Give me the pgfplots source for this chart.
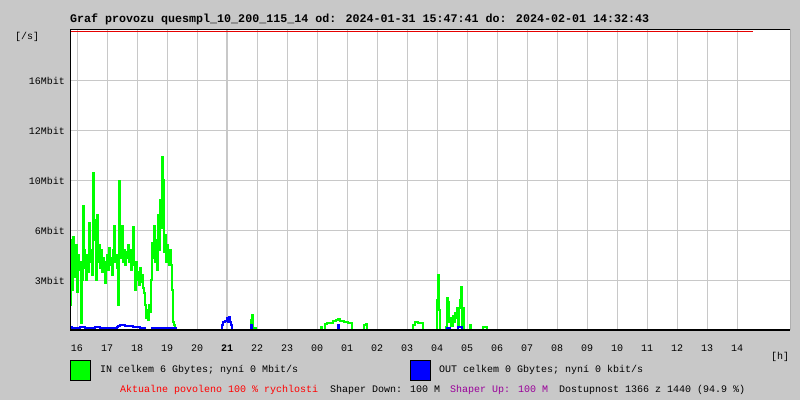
\documentclass[border=0pt]{standalone}
\usepackage{pgfplots}
\pgfplotsset{compat=1.18}
\usepackage{fontspec}
\setmainfont{Liberation Mono}
\definecolor{bg}{RGB}{200,200,200}
\definecolor{gridgray}{RGB}{200,200,200}
\definecolor{ingreen}{RGB}{0,255,0}
\definecolor{outblue}{RGB}{0,0,255}
\definecolor{txtred}{RGB}{255,0,0}
\definecolor{txtpurple}{RGB}{153,0,153}
\definecolor{limred}{RGB}{230,0,0}
\begin{document}
\begin{tikzpicture}[x=1bp,y=1bp]
\fill[bg] (0,0) rectangle (800,400);
\useasboundingbox (0,0) rectangle (800,400);
\begin{axis}[
  at={(70bp,70bp)}, anchor=south west,
  scale only axis, width=720bp, height=300bp,
  xmin=-14, xmax=1426, ymin=0, ymax=300,
  axis line style={draw=none},
  tick style={draw=none},
  xtick={0,60,...,1320},
  xticklabels={16,17,18,19,20,\textbf{21},22,23,00,01,02,03,04,05,06,07,08,09,10,11,12,13,14},
  ytick={50,100,150,200,250},
  yticklabels={3Mbit,6Mbit,10Mbit,12Mbit,16Mbit},
  grid=major,
  major grid style={draw=gridgray, line width=1bp},
  xticklabel style={font=\fontsize{10bp}{12bp}\selectfont, anchor=base, inner sep=0pt, yshift=-21bp},
  yticklabel style={font=\fontsize{10bp}{12bp}\selectfont, anchor=east, inner sep=0pt, xshift=-5bp, yshift=-1bp},
  axis background/.style={fill=white},
  clip=true,
]
\draw[gridgray, line width=2bp] (axis cs:300,0) -- (axis cs:300,300);
% IN (green)
\addplot[ingreen, line width=1.25bp, const plot] coordinates {
(-14,25) (-12,90) (-10,40) (-8,93) (-6,65) (-4,53) (-2,85) (0,38) (2,75) (4,60)
(6,68) (8,7) (10,50) (12,124) (14,80) (16,62) (18,50) (20,75) (22,58) (24,107)
(26,68) (28,80) (30,55) (32,157) (34,90) (36,110) (38,50) (40,115) (42,68) (44,85)
(46,62) (48,80) (50,58) (52,72) (54,64) (56,47) (58,68) (60,75) (62,60) (64,82)
(66,65) (68,72) (70,55) (72,80) (74,104) (76,68) (78,75) (80,62) (82,25) (84,149)
(86,72) (88,85) (90,104) (92,68) (94,80) (96,65) (98,78) (100,72) (102,85) (104,68)
(106,80) (108,60) (110,72) (112,103) (114,65) (116,40) (118,68) (120,50) (122,58) (124,45)
(126,62) (128,48) (130,55) (132,42) (134,37) (136,25) (138,12) (140,20) (142,10) (144,25)
(146,18) (148,50) (150,87) (152,72) (154,104) (156,68) (158,90) (160,60) (162,115) (164,80)
(166,130) (168,102) (170,173) (172,150) (174,78) (176,95) (178,68) (180,85) (182,72) (184,65)
(186,80) (188,65) (190,40) (192,8) (194,5) (196,2) (198,0)
(346,0) (348,10) (350,15) (352,0) (356,2) (358,0)
(488,3) (490,0) (494,0) (496,6) (500,7) (506,7) (512,9) (518,10) (522,11) (526,9)
(534,8) (542,7) (546,7) (550,0)
(572,0) (574,5) (578,6) (580,0)
(670,0) (672,5) (676,8) (682,7) (688,7) (692,0)
(718,0) (720,30) (722,55) (724,20) (726,0)
(734,0) (738,3) (740,32) (742,28) (744,8) (746,12) (748,4) (752,14) (754,8) (756,17)
(758,12) (760,22) (762,5) (764,22) (766,30) (768,43) (770,0) (772,22) (774,0)
(784,0) (786,5) (788,0) (810,0) (812,3) (818,3) (820,0)
};
% OUT (blue)
\addplot[outblue, line width=1.25bp, const plot] coordinates {
(-14,3) (-10,2) (-4,2) (6,3) (16,2) (36,3) (46,2) (66,2) (80,3) (82,4)
(86,5) (96,4) (106,4) (112,3) (126,2) (136,0) (150,2) (166,2) (186,2) (196,2) (198,0)
(288,0) (290,5) (292,8) (296,9) (300,12) (302,8) (304,13) (306,8) (308,5) (310,0)
(346,0) (348,5) (350,0)
(520,0) (522,5) (524,0)
(738,0) (740,2) (744,2) (746,0)
(760,0) (762,3) (768,3) (770,0)
};
% limit line at top
\addplot[limred, line width=1.2bp] coordinates {(-14,298.3) (1352,298.3)};
\draw[black, line width=1bp] (rel axis cs:0,1) -- (rel axis cs:1,1) -- (rel axis cs:1,0);
\draw[black, line width=1bp] (rel axis cs:0,1) -- (rel axis cs:0,0);
\draw[black, line width=1.5bp] (rel axis cs:0,0) -- (rel axis cs:1,0);
\end{axis}
\node[anchor=base west, inner sep=0pt, font=\fontsize{11.67bp}{14bp}\selectfont\bfseries] at (70,378) {Graf provozu quesmpl\_10\_200\_115\_14 od: 2024-01-31 15:47:41 do: 2024-02-01 14:32:43};
\node[anchor=base west, inner sep=0pt, font=\fontsize{10bp}{12bp}\selectfont] at (15,361) {[/s]};
\node[anchor=base west, inner sep=0pt, font=\fontsize{10bp}{12bp}\selectfont] at (771,41) {[h]};
\filldraw[fill=ingreen, draw=black, line width=1bp] (70.5,19.5) rectangle (90.5,39.5);
\node[anchor=base west, inner sep=0pt, font=\fontsize{10bp}{12bp}\selectfont] at (100,28) {IN celkem 6 Gbytes; nyní 0 Mbit/s};
\filldraw[fill=outblue, draw=black, line width=1bp] (410.5,19.5) rectangle (430.5,39.5);
\node[anchor=base west, inner sep=0pt, font=\fontsize{10bp}{12bp}\selectfont] at (439,28) {OUT celkem 0 Gbytes; nyní 0 kbit/s};
\node[anchor=base west, inner sep=0pt, font=\fontsize{10bp}{12bp}\selectfont, text=txtred] at (120,8) {Aktualne povoleno 100 \% rychlosti};
\node[anchor=base west, inner sep=0pt, font=\fontsize{10bp}{12bp}\selectfont] at (330,8) {Shaper Down: 100 M};
\node[anchor=base west, inner sep=0pt, font=\fontsize{10bp}{12bp}\selectfont, text=txtpurple] at (450,8) {Shaper Up: 100 M};
\node[anchor=base west, inner sep=0pt, font=\fontsize{10bp}{12bp}\selectfont] at (559,8) {Dostupnost 1366 z 1440 (94.9 \%)};
\end{tikzpicture}
\end{document}
